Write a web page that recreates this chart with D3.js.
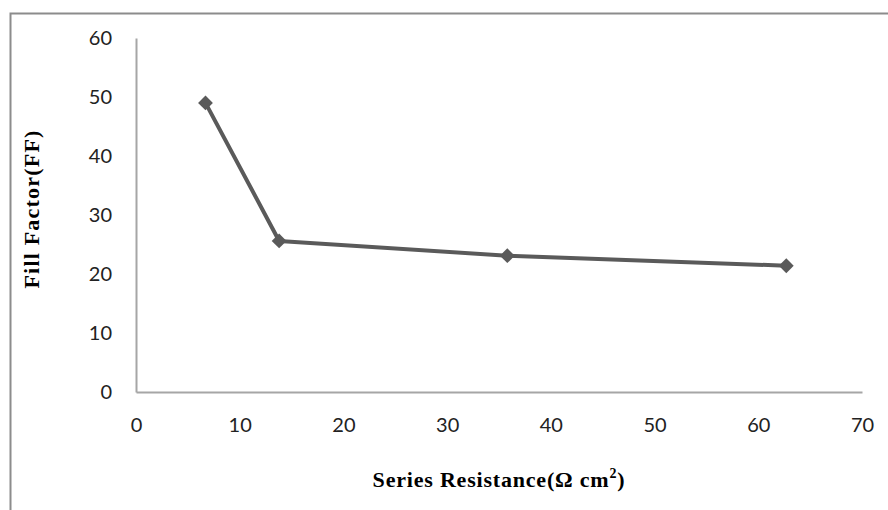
<!DOCTYPE html>
<html>
<head>
<meta charset="utf-8">
<script src="https://cdn.jsdelivr.net/npm/d3@7"></script>
<style>
  html, body { margin: 0; padding: 0; background: #fff; }
  svg { display: block; }
</style>
</head>
<body>
<svg id="chart" width="888" height="510"></svg>
<script>
// Series resistance (Ω cm²) vs. fill factor (FF)
const resistance = [6.7, 13.8, 35.8, 62.7];
const fillFactor = [49.0, 25.6, 23.1, 21.4];
const xTicks = [0, 10, 20, 30, 40, 50, 60, 70];
const yTicks = [0, 10, 20, 30, 40, 50, 60];

const svg = d3.select("#chart");
const W = 888, H = 510;

// Outer frame (top and left edges)
svg.append("path")
  .attr("d", `M10.5,${H} V13.5 H${W}`)
  .attr("fill", "none")
  .attr("stroke", "#8c8c8c")
  .attr("stroke-width", 2);

const x = d3.scaleLinear().domain([0, 70]).range([136, 862]);
const y = d3.scaleLinear().domain([0, 60]).range([392, 38]);

const tickFont = "Lato, 'Open Sans', sans-serif";

// X axis
const gx = svg.append("g")
  .attr("transform", `translate(0,${y(0)})`)
  .call(d3.axisBottom(x).tickValues(xTicks).tickSize(0).tickPadding(26).tickFormat(d3.format("d")));
gx.select(".domain").attr("stroke", "#a6a6a6").attr("stroke-width", 2);
gx.selectAll("text").attr("font-family", tickFont).attr("font-size", 20).attr("fill", "#222");

// Y axis
const gy = svg.append("g")
  .attr("transform", `translate(${x(0)},0)`)
  .call(d3.axisLeft(y).tickValues(yTicks).tickSize(0).tickPadding(24).tickFormat(d3.format("d")));
gy.select(".domain").attr("stroke", "#a6a6a6").attr("stroke-width", 2);
gy.selectAll("text").attr("font-family", tickFont).attr("font-size", 20).attr("fill", "#222");

// Axis titles
const titleFont = "'Liberation Serif', 'Times New Roman', serif";
const xTitle = svg.append("text")
  .attr("x", 499).attr("y", 487)
  .attr("text-anchor", "middle")
  .attr("font-family", titleFont)
  .attr("font-weight", "bold")
  .attr("font-size", 22)
  .attr("letter-spacing", 0.8)
  .attr("fill", "#000");
xTitle.append("tspan").text("Series Resistance(Ω cm");
xTitle.append("tspan").attr("dy", -9).attr("font-size", 14).text("2");
xTitle.append("tspan").attr("dy", 9).text(")");

svg.append("text")
  .attr("transform", "translate(39,209) rotate(-90)")
  .attr("text-anchor", "middle")
  .attr("font-family", titleFont)
  .attr("font-weight", "bold")
  .attr("font-size", 22)
  .attr("letter-spacing", 1.2)
  .attr("fill", "#000")
  .text("Fill Factor(FF)");

// Series line
const pts = resistance.map((r, i) => [r, fillFactor[i]]);
svg.append("path")
  .datum(pts)
  .attr("fill", "none")
  .attr("stroke", "#5a5a5a")
  .attr("stroke-width", 4)
  .attr("stroke-linejoin", "round")
  .attr("d", d3.line().x(d => x(d[0])).y(d => y(d[1])));

// Diamond markers
svg.append("g").selectAll("path")
  .data(pts)
  .join("path")
  .attr("transform", d => `translate(${x(d[0])},${y(d[1])})`)
  .attr("d", d3.symbol(d3.symbolDiamond2, 140)())
  .attr("fill", "#5a5a5a");
</script>
</body>
</html>
